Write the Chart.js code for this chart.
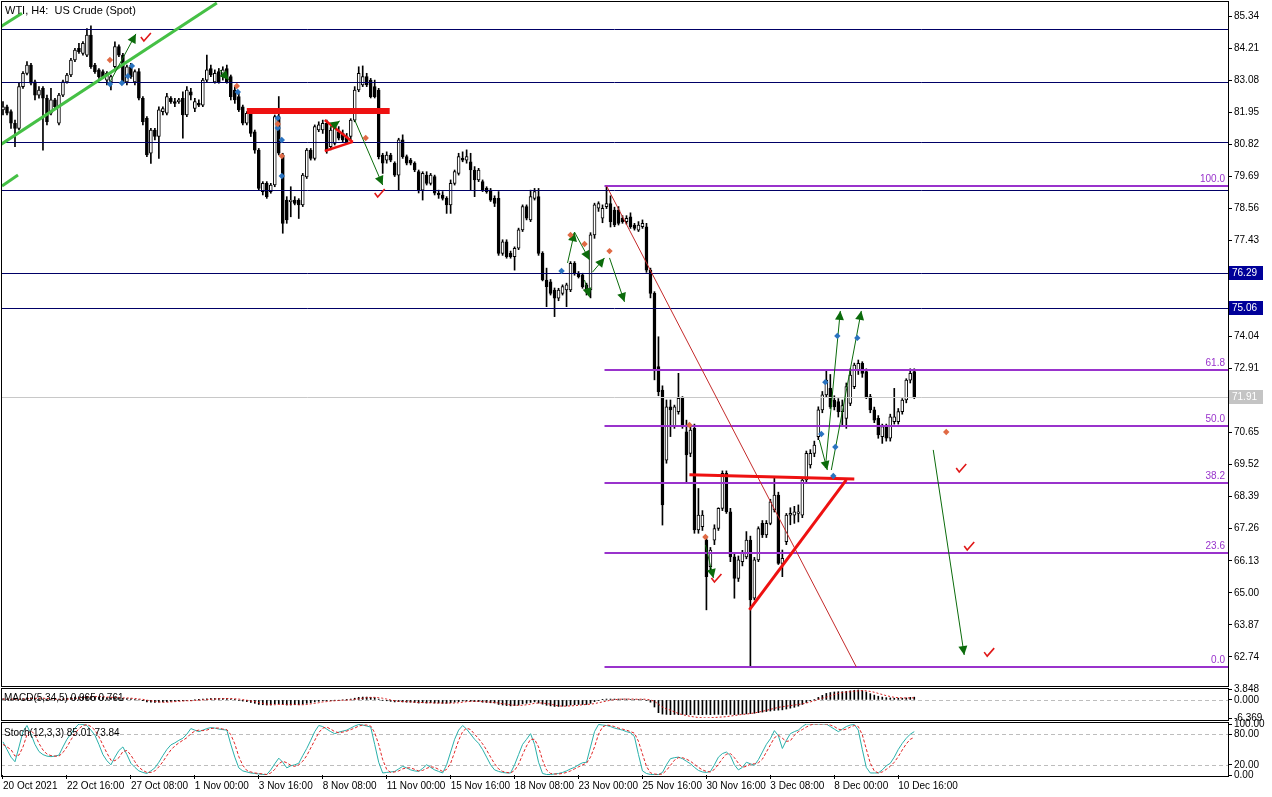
<!DOCTYPE html>
<html>
<head>
<meta charset="utf-8">
<script src="https://cdn.jsdelivr.net/npm/chart.js@4.4.1/dist/chart.umd.min.js"></script>
<style>
html, body { margin: 0; padding: 0; background: #fff; }
#wrap { position: relative; width: 1272px; height: 797px; overflow: hidden; background: #fff; }
canvas { position: absolute; left: 0; }
</style>
</head>
<body>
<div id="wrap">
  <canvas id="main" width="1272" height="687" style="top:0px"></canvas>
  <canvas id="macd" width="1272" height="45" style="top:681px"></canvas>
  <canvas id="stoch" width="1272" height="81" style="top:716px"></canvas>
</div>
<script>
// WTI H4 — candles + MACD + Stochastic, MT5 look

// ---------- price data (H4 bars, oldest first) ----------
const opens = [
  82.03,82.14,81.97,81.56,81.38,82.85,83.32,83.61,83.02,82.55,
  82.79,82.44,81.91,82.38,81.56,82.55,83.02,83.26,83.79,84.20,
  84.02,83.96,84.67,83.61,83.44,83.38,83.08,83.02,83.55,84.26,
  83.96,83.02,83.55,83.02,83.38,82.44,81.73,80.50,81.32,81.09,
  81.97,81.91,82.44,82.32,82.32,82.44,81.85,82.67,82.08,82.26,
  82.20,83.08,83.49,83.02,83.38,83.20,83.49,83.20,82.73,82.50,
  82.14,81.56,81.91,81.26,80.61,79.15,79.44,79.15,79.38,81.79,
  80.44,78.85,78.79,78.85,78.85,78.68,79.67,80.61,80.32,81.32,
  81.32,81.56,80.73,80.85,81.26,81.20,81.09,81.09,81.67,82.73,
  82.91,83.20,83.08,82.85,82.73,80.44,80.26,80.44,80.15,79.73,
  80.97,80.38,80.26,80.15,79.85,79.20,79.73,79.44,79.68,79.09,
  79.03,78.91,78.68,79.44,79.79,80.32,80.26,80.20,79.91,79.56,
  79.50,79.26,79.20,78.91,78.91,76.97,77.38,76.97,76.85,77.15,
  77.80,78.62,78.15,78.91,78.97,76.97,76.03,75.97,75.68,75.39,
  75.56,75.68,75.68,76.62,76.27,76.21,75.86,75.68,77.62,78.56,
  78.21,78.62,78.73,78.50,78.50,78.21,78.09,78.26,77.97,77.79,
  77.91,77.91,76.38,75.56,72.98,72.15,69.68,71.56,70.86,71.39,
  71.86,70.68,69.92,70.80,67.22,67.33,66.86,65.92,66.86,67.27,
  67.98,69.21,67.86,66.27,65.51,66.10,66.27,66.86,64.81,66.16,
  67.45,67.04,67.45,67.92,68.45,66.04,66.80,67.74,67.74,67.80,
  67.74,68.98,69.51,69.92,70.51,71.45,71.98,72.21,71.80,71.74,
  71.39,71.15,71.68,72.27,72.86,73.09,72.80,71.92,71.45,71.15,
  70.51,70.86,70.45,71.04,71.04,71.39,71.80,72.50,72.80
];
const highs = [
  82.32,82.20,82.03,81.67,82.97,83.38,83.73,83.67,83.08,82.85,
  82.85,82.55,82.79,82.44,82.61,83.08,83.32,83.85,84.20,84.38,
  84.44,84.90,84.99,83.67,83.49,83.44,83.38,83.26,84.43,84.32,
  84.02,83.61,83.67,83.44,83.49,82.50,81.79,81.38,81.38,82.14,
  82.14,82.61,82.50,82.44,82.44,82.67,82.85,82.79,82.44,82.38,
  83.14,83.96,83.61,83.44,83.49,83.55,83.61,83.26,82.85,82.61,
  82.20,81.97,82.03,81.32,80.67,79.50,79.50,79.44,81.85,82.50,
  80.50,78.97,79.32,78.97,78.90,79.79,80.67,80.67,81.50,81.61,
  81.67,81.67,81.44,81.56,81.44,81.32,81.20,81.72,82.85,83.55,
  83.58,83.32,83.14,83.08,82.79,80.50,80.55,80.50,80.20,81.03,
  81.15,80.44,80.32,80.20,79.91,79.85,79.85,79.79,79.73,79.20,
  79.15,78.97,79.56,79.91,80.50,80.55,80.62,80.50,80.03,79.97,
  79.56,79.32,79.26,79.00,79.15,77.45,77.45,77.05,77.20,77.86,
  78.68,78.68,79.20,79.26,79.26,77.03,76.45,76.05,75.75,75.74,
  75.86,75.92,76.68,76.68,76.33,76.27,75.92,77.70,78.74,78.79,
  78.68,79.35,79.00,78.60,78.62,78.30,78.30,78.40,78.03,78.09,
  78.15,78.03,76.45,75.62,74.03,72.30,71.80,71.80,71.62,72.74,
  71.92,71.09,70.86,70.95,68.68,67.90,67.00,66.60,67.40,68.00,
  69.30,69.30,67.98,66.40,66.30,66.50,67.16,67.00,66.25,67.33,
  67.55,67.55,68.30,69.04,68.55,66.51,67.80,68.00,68.05,68.10,
  69.04,70.00,70.05,70.35,71.56,72.10,72.86,72.70,71.95,71.85,
  71.80,72.40,72.90,73.10,73.21,73.15,72.90,72.00,71.55,71.25,
  70.95,70.95,71.30,72.21,71.50,71.85,72.55,72.90,72.90
];
const lows = [
  81.85,81.85,81.38,80.73,81.32,82.79,83.26,82.91,82.38,82.44,
  80.61,81.50,81.85,82.08,81.50,82.50,82.97,83.20,83.73,84.02,
  83.96,83.91,83.49,83.32,83.14,83.14,82.91,82.73,83.49,83.91,
  82.97,82.91,83.14,82.91,82.38,81.50,80.38,80.14,80.97,80.32,
  81.85,81.85,82.26,82.14,82.26,81.03,81.79,82.38,81.97,82.14,
  82.14,83.02,83.20,82.97,82.97,83.08,82.97,82.38,82.26,81.97,
  81.50,81.50,81.09,80.50,79.21,79.03,78.91,79.09,79.32,80.44,
  77.68,78.03,78.26,78.68,78.20,78.62,79.61,80.26,80.26,81.26,
  81.20,80.50,80.62,80.79,80.97,80.91,80.85,80.97,81.61,82.67,
  82.85,82.85,82.45,82.45,80.30,79.79,80.15,80.20,79.68,79.20,
  80.32,80.09,80.09,79.85,79.10,78.85,79.38,79.38,79.03,78.91,
  78.85,78.38,78.38,79.38,79.73,80.20,80.15,79.20,78.97,79.50,
  79.15,79.09,78.80,78.62,76.90,76.90,76.80,76.80,76.38,77.10,
  77.74,78.15,78.09,78.85,76.90,76.00,75.09,75.50,74.74,75.30,
  75.50,75.09,75.62,76.20,76.10,75.74,75.50,75.40,77.50,78.45,
  78.05,78.55,77.90,77.91,77.97,78.03,78.00,77.85,77.79,77.74,
  77.85,76.30,75.40,72.51,71.95,67.39,69.57,70.51,70.80,71.30,
  70.80,68.86,69.80,67.10,67.10,67.20,64.40,65.80,66.70,67.20,
  67.90,67.80,66.10,64.81,65.40,65.95,66.20,62.40,64.75,66.10,
  66.95,66.95,67.40,67.85,66.00,65.57,66.70,67.40,67.45,67.50,
  67.65,68.90,69.40,69.80,70.40,71.35,71.90,71.50,71.45,71.20,
  70.86,70.80,71.60,72.20,72.70,72.60,71.85,71.35,71.00,70.45,
  70.27,70.35,70.35,70.95,70.95,71.30,71.70,72.40,71.85
];
const closes = [
  82.14,81.91,81.56,81.38,82.85,83.32,83.61,82.97,82.55,82.73,
  82.44,81.61,82.38,82.14,82.55,83.02,83.26,83.79,84.14,84.08,
  84.38,84.67,83.55,83.38,83.20,83.20,83.32,83.20,84.26,83.96,
  83.02,83.55,83.20,83.38,82.44,81.61,80.44,81.32,81.09,82.03,
  82.08,82.50,82.32,82.26,82.38,81.85,82.73,82.55,82.32,82.20,
  83.08,83.44,83.26,83.32,83.02,83.44,83.02,82.50,82.38,82.03,
  81.56,81.91,81.20,80.61,79.26,79.44,78.97,79.38,81.79,80.50,
  78.03,78.15,78.85,78.73,78.68,79.73,80.61,80.32,81.44,81.50,
  81.56,80.62,81.32,81.44,81.03,80.97,80.91,81.67,82.73,83.32,
  83.20,82.91,82.50,82.50,80.38,80.15,80.44,80.26,79.73,80.97,
  80.38,80.15,80.15,79.91,79.20,79.79,79.44,79.73,79.09,79.03,
  78.91,78.68,79.44,79.85,80.38,80.26,80.38,79.91,79.56,79.91,
  79.20,79.15,78.85,78.73,76.97,77.38,76.85,76.85,77.15,77.80,
  78.62,78.21,78.97,79.15,76.97,76.03,75.80,75.56,75.39,75.68,
  75.80,75.86,76.62,76.27,76.15,75.80,75.62,77.62,78.68,78.73,
  78.56,78.73,78.09,77.97,78.03,78.09,78.21,77.91,77.85,77.97,
  78.03,76.38,75.56,72.86,72.09,68.10,71.56,71.45,71.56,71.86,
  70.86,69.86,70.74,67.22,67.74,67.74,65.57,66.51,67.27,67.98,
  69.21,67.86,66.27,65.51,66.16,66.39,66.86,64.75,66.16,67.27,
  67.04,67.45,68.21,68.45,66.04,66.22,67.74,67.80,67.86,67.86,
  68.98,69.92,69.92,70.21,71.45,71.98,72.50,71.56,71.56,71.39,
  71.60,72.27,72.68,73.03,73.09,72.74,71.92,71.45,71.09,70.57,
  70.86,70.45,71.21,71.21,71.39,71.80,72.50,72.74,71.92
];

// ---------- indicator data ----------
const macdMain = [
  0.4,0.3,0.2,0.1,0.3,0.5,0.7,0.7,0.6,0.5,
  0.3,0.2,0.2,0.2,0.3,0.4,0.6,0.8,1.0,1.1,
  1.2,1.3,1.2,1.1,1.0,0.9,0.8,0.7,0.8,0.8,
  0.6,0.5,0.4,0.2,0.0,-0.3,-0.7,-0.8,-0.9,-0.8,
  -0.7,-0.6,-0.5,-0.4,-0.3,-0.3,-0.2,-0.1,0.0,0.1,
  0.3,0.4,0.5,0.5,0.5,0.5,0.5,0.3,0.1,-0.1,
  -0.4,-0.6,-0.9,-1.2,-1.6,-1.7,-1.8,-1.8,-1.4,-1.3,
  -1.6,-1.8,-1.8,-1.7,-1.7,-1.5,-1.2,-1.0,-0.7,-0.5,
  -0.3,-0.3,-0.2,-0.1,-0.1,0.0,0.1,0.3,0.6,0.9,
  1.0,1.0,0.9,0.8,0.3,-0.1,-0.3,-0.5,-0.7,-0.6,
  -0.7,-0.8,-0.8,-0.9,-1.1,-1.0,-1.1,-1.0,-1.1,-1.1,
  -1.2,-1.2,-1.0,-0.8,-0.6,-0.4,-0.4,-0.5,-0.6,-0.6,
  -0.8,-0.9,-1.0,-1.1,-1.6,-1.8,-2.0,-2.1,-2.0,-1.8,
  -1.4,-1.2,-0.9,-0.7,-1.1,-1.5,-1.9,-2.1,-2.3,-2.3,
  -2.2,-2.1,-1.8,-1.7,-1.6,-1.6,-1.6,-1.2,-0.6,-0.2,
  0.1,0.3,0.3,0.3,0.3,0.3,0.3,0.2,0.2,0.2,
  0.2,-0.2,-0.8,-2.5,-4.5,-5.0,-5.1,-5.2,-5.1,-5.2,
  -5.1,-5.2,-5.2,-5.1,-5.2,-5.2,-5.1,-5.2,-5.1,-5.1,
  -5.2,-5.1,-5.1,-5.2,-5.1,-5.0,-4.9,-4.8,-4.7,-4.5,
  -4.3,-4.1,-3.9,-3.7,-3.6,-3.5,-3.2,-2.9,-2.6,-2.2,
  -1.6,-0.9,-0.3,0.2,0.9,1.6,2.3,2.6,2.8,2.9,
  2.9,3.0,3.2,3.4,3.5,3.3,2.8,2.2,1.7,1.3,
  1.0,0.8,0.7,0.6,0.6,0.6,0.7,0.9,0.965
];
const macdSignal = [
  0.3,0.3,0.3,0.3,0.3,0.3,0.4,0.5,0.6,0.6,
  0.6,0.5,0.4,0.3,0.2,0.3,0.3,0.4,0.5,0.7,
  0.8,1.0,1.1,1.2,1.2,1.1,1.0,0.9,0.9,0.8,
  0.7,0.7,0.6,0.5,0.3,0.2,-0.1,-0.3,-0.5,-0.7,
  -0.8,-0.8,-0.7,-0.6,-0.5,-0.4,-0.3,-0.3,-0.2,-0.1,
  0.0,0.1,0.2,0.3,0.4,0.5,0.5,0.5,0.4,0.3,
  0.1,-0.1,-0.4,-0.6,-0.9,-1.2,-1.5,-1.6,-1.7,-1.6,
  -1.6,-1.6,-1.6,-1.6,-1.7,-1.7,-1.6,-1.4,-1.2,-1.0,
  -0.7,-0.6,-0.4,-0.3,-0.2,-0.1,-0.1,0.0,0.2,0.4,
  0.6,0.8,0.9,0.9,0.8,0.6,0.3,0.0,-0.3,-0.5,
  -0.6,-0.6,-0.7,-0.8,-0.9,-0.9,-1.0,-1.0,-1.1,-1.1,
  -1.1,-1.1,-1.1,-1.1,-1.0,-0.8,-0.6,-0.5,-0.5,-0.5,
  -0.6,-0.7,-0.8,-0.9,-1.1,-1.3,-1.5,-1.7,-1.9,-1.9,
  -1.9,-1.7,-1.5,-1.2,-1.1,-1.1,-1.3,-1.5,-1.8,-2.1,
  -2.2,-2.2,-2.1,-2.0,-1.9,-1.7,-1.6,-1.5,-1.3,-1.0,
  -0.7,-0.4,-0.1,0.1,0.2,0.3,0.3,0.3,0.3,0.2,
  0.3,0.2,0.0,-0.5,-1.5,-2.5,-3.2,-3.6,-4.2,-4.8,
  -5.2,-5.5,-5.8,-6.0,-6.2,-6.3,-6.369,-6.3,-6.2,-6.1,
  -6.0,-5.9,-5.7,-5.5,-5.3,-5.1,-5.0,-4.8,-4.6,-4.3,
  -4.0,-3.7,-3.3,-3.0,-2.6,-2.4,-2.2,-2.0,-1.8,-1.6,
  -1.4,-1.1,-0.7,-0.3,0.2,0.6,1.0,1.4,1.9,2.3,
  2.6,2.8,2.9,3.1,3.2,3.3,3.2,3.0,2.7,2.3,
  1.9,1.5,1.2,0.9,0.8,0.7,0.7,0.7,0.761
];
const stochK = [
  65,50,35,26,55,85,97,80,60,46,
  40,37,36,37,39,55,70,81,92,100,
  99,97,88,78,60,40,28,20,35,48,
  55,40,23,15,8,5,3,8,14,25,
  38,50,59,63,68,72,80,91,88,85,
  88,91,93,92,90,89,88,60,35,14,
  8,6,4,3,2,1,1,10,22,33,
  25,14,18,20,23,38,52,68,85,97,
  95,90,85,81,84,86,88,92,96,99,
  98,96,94,60,25,4,5,6,7,12,
  17,14,10,8,7,13,20,15,10,7,
  4,20,45,70,88,97,90,80,70,62,
  50,35,20,10,7,5,4,4,20,40,
  60,70,81,60,25,3,1,1,2,3,
  5,8,12,15,20,24,25,55,85,99,
  98,97,95,92,90,88,85,83,75,40,
  8,3,1,1,1,5,20,32,34,35,
  32,27,22,15,9,6,5,7,20,35,
  42,45,38,20,10,15,25,22,19,30,
  45,60,71,87,77,52,68,81,85,88,
  95,100,100,100,100,100,100,95,90,85,
  90,95,98,99,88,50,15,4,4,4,
  10,18,23,35,50,62,72,80,85.01
];
const stochD = [
  60,55,50,37,39,55,79,87,79,62,
  49,41,38,37,37,44,55,69,81,91,
  97,99,95,88,75,59,43,29,28,34,
  46,48,39,26,15,9,5,5,8,16,
  26,38,49,57,63,68,73,81,86,88,
  87,88,91,92,92,90,89,79,61,36,
  19,9,6,4,3,2,1,4,11,22,
  27,24,19,17,20,27,38,53,68,83,
  92,94,90,85,83,84,86,89,92,96,
  98,98,96,83,60,30,11,5,6,8,
  12,14,14,11,8,9,13,16,15,11,
  7,11,23,45,68,85,92,89,80,71,
  61,49,35,22,12,7,5,4,9,21,
  40,57,70,70,55,29,10,3,2,2,
  3,5,8,12,16,20,23,35,55,80,
  94,98,97,95,92,90,88,85,82,66,
  41,17,4,2,1,2,9,19,29,34,
  34,31,27,21,15,10,7,6,11,21,
  32,41,42,34,23,15,17,21,22,24,
  31,45,59,73,78,72,66,67,78,85,
  89,94,98,100,100,100,100,98,95,90,
  88,90,94,97,95,79,51,23,8,4,
  6,11,17,25,36,49,61,70,73.84
];

// ---------- axes ----------
const SLOTS = 307;   // bar slots across the window (incl. empty right margin)
const timeTickIdx = [0, 16, 32, 48, 64, 80, 96, 112, 128, 144, 160, 176, 192, 208, 224];
const timeTickText = ['20 Oct 2021', '22 Oct 16:00', '27 Oct 08:00', '1 Nov 00:00', '3 Nov 16:00',
  '8 Nov 08:00', '11 Nov 00:00', '15 Nov 16:00', '18 Nov 08:00', '23 Nov 00:00', '25 Nov 16:00',
  '30 Nov 16:00', '3 Dec 08:00', '8 Dec 00:00', '10 Dec 16:00'];
const priceTicks = [85.34, 84.21, 83.08, 81.95, 80.82, 79.69, 78.56, 77.43, 74.04, 72.91,
  70.65, 69.52, 68.39, 67.26, 66.13, 65.00, 63.87, 62.74];
const PRICE_MAX = 85.834, PRICE_MIN = 61.715;
const macdTicks = [3.848, 0, -6.369];
const stochTicks = [100, 80, 20, 0];
const stochLevels = [80, 20];
const lastPrice = 71.91;

// ---------- chart objects (bar index, price) ----------
const levelLines = [84.89, 83.01, 80.90, 79.20, 76.29, 75.06];
const levelTags = [76.29, 75.06];
const fibStart = 150.5;
const fibLevels = [79.35, 72.87, 70.87, 68.87, 66.39, 62.39];
const fibNames = ['100.0', '61.8', '50.0', '38.2', '23.6', '0.0'];
const greenChannel = [[-0.75, 80.79, 53.5, 85.80], [-0.75, 84.95, 4.75, 85.44], [-0.25, 79.35, 3.75, 79.73]];
const redZone = [61, 96.75, 81.99];
const redPennant = [[80.5, 81.67, 87.5, 80.90], [80.5, 80.58, 87.5, 80.90]];
const redTrend = [151, 79.35, 213.5, 62.39];
const redTriangle = [[186.75, 64.40, 211, 68.98], [171.75, 69.16, 213, 69.01]];
const arrows = [
  [26.75, 83.01, 33.25, 84.71], [88, 81.67, 95, 79.38], [141.25, 76.63, 143, 77.72],
  [143, 77.72, 146.75, 76.74], [145.5, 76.03, 146.75, 75.43], [147.5, 76.31, 150.5, 76.81],
  [151.75, 76.81, 155.5, 75.26], [204.25, 70.39, 206.25, 69.33], [205.75, 69.40, 209.5, 74.94],
  [207.25, 69.33, 214.75, 74.94], [232.75, 70.04, 240.5, 62.81], [175.75, 66.69, 177.75, 65.52],
  [54.25, 83.44, 56.5, 83.08], [81.75, 81.39, 84.25, 81.64]
];
const checks = [[35.75, 84.60], [94.25, 79.10], [178.5, 65.52], [239.75, 69.40], [241.75, 66.65], [246.75, 62.91]];
const blueMarks = [[26.75, 82.94], [29.75, 82.98], [31.25, 83.22], [32.25, 83.58], [68.75, 81.74], [68.75, 81.39],
  [69.75, 80.97], [69.75, 79.70], [58.75, 82.66], [205.75, 72.43], [208.75, 74.06], [213.75, 73.99],
  [204.75, 70.60], [208.25, 70.14], [207.75, 69.12], [139.75, 76.35]];
const orangeMarks = [[26.75, 83.79], [68.75, 81.53], [69.75, 80.40], [90.75, 81.04], [171.75, 70.92],
  [175.75, 66.97], [236, 70.67], [145.5, 77.30], [151.75, 77.05], [142, 77.62], [58.5, 82.87]];

// ────────────────────────────────────────────
const FONT = 'Liberation Sans, Arial, sans-serif';
Chart.defaults.font.family = FONT;
Chart.defaults.font.size = 10;
Chart.defaults.color = '#000';

const slots = Array.from({ length: SLOTS }, (_, i) => String(i));
const bodyColors = opens.map((o, i) => (closes[i] >= o ? '#ffffff' : '#000000'));

// shared option bits
function rightAxis(min, max, ticks, digits) {
  return {
    position: 'right', min, max,
    afterBuildTicks(s) { s.ticks = ticks.map(v => ({ value: v })); },
    afterFit(s) { s.width = 44; s.paddingTop = 0; s.paddingBottom = 0; },
    grid: { drawOnChartArea: false, tickLength: 4, color: '#000' },
    border: { display: false },
    ticks: { autoSkip: false, padding: 2, color: '#000', font: { size: 10 }, callback: v => Number(v).toFixed(digits) },
  };
}
const baseOpts = {
  responsive: false, maintainAspectRatio: false, animation: false, events: [],
  plugins: { legend: { display: false }, tooltip: { enabled: false } },
};

function arrowHead(ctx, x1, y1, x2, y2) {
  const a = Math.atan2(y2 - y1, x2 - x1), L = 9, W = 4.5;
  ctx.beginPath();
  ctx.moveTo(x1, y1); ctx.lineTo(x2, y2); ctx.stroke();
  ctx.beginPath();
  ctx.moveTo(x2, y2);
  ctx.lineTo(x2 - L * Math.cos(a) + W * Math.sin(a), y2 - L * Math.sin(a) - W * Math.cos(a));
  ctx.lineTo(x2 - L * Math.cos(a) - W * Math.sin(a), y2 - L * Math.sin(a) + W * Math.cos(a));
  ctx.closePath(); ctx.fill();
}
function diamond(ctx, x, y, r) {
  ctx.beginPath();
  ctx.moveTo(x, y - r); ctx.lineTo(x + r, y); ctx.lineTo(x, y + r); ctx.lineTo(x - r, y);
  ctx.closePath(); ctx.fill();
}

// ────────────────────────────────────────────
// Main price window objects
// ────────────────────────────────────────────
const mtObjects = {
  id: 'mtObjects',
  afterDatasetsDraw(chart) {
    const { ctx, chartArea: a, scales: { x, y } } = chart;
    const px = b => x.getPixelForValue(b);
    const py = v => y.getPixelForValue(v);
    const seg = (s, w, c) => {
      ctx.strokeStyle = c; ctx.lineWidth = w;
      ctx.beginPath(); ctx.moveTo(px(s[0]), py(s[1])); ctx.lineTo(px(s[2]), py(s[3])); ctx.stroke();
    };
    ctx.save();
    ctx.beginPath(); ctx.rect(a.left, a.top, a.right - a.left, a.bottom - a.top); ctx.clip();

    // current price
    ctx.strokeStyle = '#c8c8c8'; ctx.lineWidth = 1;
    ctx.beginPath(); ctx.moveTo(a.left, Math.round(py(lastPrice)) + 0.5); ctx.lineTo(a.right, Math.round(py(lastPrice)) + 0.5); ctx.stroke();

    // horizontal levels
    ctx.strokeStyle = '#000066';
    levelLines.forEach(v => {
      const yy = Math.round(py(v)) + 0.5;
      ctx.beginPath(); ctx.moveTo(a.left, yy); ctx.lineTo(a.right, yy); ctx.stroke();
    });

    // fibonacci
    ctx.strokeStyle = '#9933cc'; ctx.lineWidth = 2;
    ctx.fillStyle = '#9933cc'; ctx.font = '10px ' + FONT;
    ctx.textAlign = 'right'; ctx.textBaseline = 'bottom';
    fibLevels.forEach((v, i) => {
      const yy = Math.round(py(v));
      ctx.beginPath(); ctx.moveTo(px(fibStart), yy); ctx.lineTo(a.right, yy); ctx.stroke();
      ctx.fillText(fibNames[i], a.right - 3, yy - 2);
    });

    // green channel
    greenChannel.forEach(s => seg(s, 3, '#45c045'));

    // red objects
    ctx.fillStyle = '#ee1111';
    ctx.fillRect(px(redZone[0]), py(redZone[2]) - 3, px(redZone[1]) - px(redZone[0]), 6);
    redPennant.forEach(s => seg(s, 2.5, '#ee1111'));
    seg(redTrend, 1, '#c42a2a');
    redTriangle.forEach(s => seg(s, 3, '#ee1111'));

    // arrows
    ctx.strokeStyle = '#0b6b0b'; ctx.fillStyle = '#0b6b0b'; ctx.lineWidth = 1;
    arrows.forEach(s => arrowHead(ctx, px(s[0]), py(s[1]), px(s[2]), py(s[3])));

    // check marks
    ctx.strokeStyle = '#e01818'; ctx.lineWidth = 1.6;
    checks.forEach(c => {
      const cx = px(c[0]), cy = py(c[1]);
      ctx.beginPath(); ctx.moveTo(cx - 5, cy); ctx.lineTo(cx - 2, cy + 4); ctx.lineTo(cx + 5, cy - 4); ctx.stroke();
    });

    // signal dots
    ctx.fillStyle = '#2a73c0';
    blueMarks.forEach(m => diamond(ctx, px(m[0]), py(m[1]), 3.2));
    ctx.fillStyle = '#e06a45';
    orangeMarks.forEach(m => diamond(ctx, px(m[0]), py(m[1]), 3.2));
    ctx.restore();

    // frame
    ctx.save();
    ctx.strokeStyle = '#000'; ctx.lineWidth = 1;
    ctx.strokeRect(1.5, 1.5, a.right - 1, a.bottom - 1);

    // title
    ctx.fillStyle = '#000'; ctx.font = '11px ' + FONT;
    ctx.textAlign = 'left'; ctx.textBaseline = 'middle';
    ctx.fillText('WTI, H4:  US Crude (Spot)', 5, 11);

    // price tags on the axis
    ctx.font = '10px ' + FONT;
    levelTags.forEach(v => {
      const yy = Math.round(py(v));
      ctx.fillStyle = '#000099'; ctx.fillRect(a.right + 1, yy - 7, 34, 14);
      ctx.fillStyle = '#fff'; ctx.fillText(v.toFixed(2), a.right + 4, yy);
    });
    const ly = Math.round(py(lastPrice));
    ctx.fillStyle = '#c4c4c4'; ctx.fillRect(a.right + 1, ly - 7, 34, 14);
    ctx.fillStyle = '#fff'; ctx.fillText(lastPrice.toFixed(2), a.right + 4, ly);
    ctx.restore();
  },
};

new Chart(document.getElementById('main'), {
  type: 'bar',
  data: {
    labels: slots,
    datasets: [
      { data: lows.map((l, i) => [l, highs[i]]), backgroundColor: '#000', barThickness: 1, grouped: false, order: 2 },
      { data: opens.map((o, i) => [o, closes[i]]), backgroundColor: bodyColors, borderColor: '#000', borderWidth: 1,
        borderSkipped: false, barThickness: 3, minBarLength: 1, grouped: false, order: 1 },
    ],
  },
  options: {
    ...baseOpts,
    layout: { padding: { left: 1, top: 2, bottom: 1, right: 0 } },
    scales: {
      x: { display: false, offset: true },
      y: rightAxis(PRICE_MIN, PRICE_MAX, priceTicks, 2),
    },
  },
  plugins: [mtObjects],
});

// ────────────────────────────────────────────
// MACD window
// ────────────────────────────────────────────
const macdDeco = {
  id: 'macdDeco',
  beforeDatasetsDraw(chart) {
    const { ctx, chartArea: a, scales: { y } } = chart;
    ctx.save();
    ctx.strokeStyle = '#bdbdbd'; ctx.setLineDash([4, 3]); ctx.lineWidth = 1;
    const yy = Math.round(y.getPixelForValue(0)) + 0.5;
    ctx.beginPath(); ctx.moveTo(a.left, yy); ctx.lineTo(a.right, yy); ctx.stroke();
    ctx.restore();
  },
  afterDatasetsDraw(chart) {
    const { ctx, chartArea: a } = chart;
    ctx.save();
    ctx.strokeStyle = '#000'; ctx.lineWidth = 1;
    ctx.strokeRect(1.5, 7.5, a.right - 1, 32);
    ctx.fillStyle = '#000'; ctx.font = '10px ' + FONT; ctx.textBaseline = 'middle';
    ctx.fillText('MACD(5,34,5) 0.965 0.761', 4, 17);
    ctx.restore();
  },
};

new Chart(document.getElementById('macd'), {
  type: 'bar',
  data: {
    labels: slots,
    datasets: [
      { type: 'line', data: macdSignal, borderColor: '#d42020', borderWidth: 1, borderDash: [2, 2], pointRadius: 0, order: 1 },
      { data: macdMain, backgroundColor: '#000', barThickness: 1, order: 2 },
    ],
  },
  options: {
    ...baseOpts,
    layout: { padding: { left: 1, top: 8, bottom: 8, right: 0 } },
    scales: {
      x: { display: false, offset: true },
      y: rightAxis(-6.369, 3.848, macdTicks, 3),
    },
  },
  plugins: [macdDeco],
});

// ────────────────────────────────────────────
// Stochastic window + time axis
// ────────────────────────────────────────────
const stochDeco = {
  id: 'stochDeco',
  beforeDatasetsDraw(chart) {
    const { ctx, chartArea: a, scales: { y } } = chart;
    ctx.save();
    ctx.strokeStyle = '#bdbdbd'; ctx.setLineDash([4, 3]); ctx.lineWidth = 1;
    stochLevels.forEach(v => {
      const yy = Math.round(y.getPixelForValue(v)) + 0.5;
      ctx.beginPath(); ctx.moveTo(a.left, yy); ctx.lineTo(a.right, yy); ctx.stroke();
    });
    ctx.restore();
  },
  afterDatasetsDraw(chart) {
    const { ctx, chartArea: a } = chart;
    ctx.save();
    ctx.strokeStyle = '#000'; ctx.lineWidth = 1;
    ctx.strokeRect(1.5, 6.5, a.right - 1, 54);
    ctx.fillStyle = '#000'; ctx.font = '10px ' + FONT; ctx.textBaseline = 'middle';
    ctx.fillText('Stoch(12,3,3) 85.01 73.84', 4, 17);
    ctx.restore();
  },
};

new Chart(document.getElementById('stoch'), {
  type: 'line',
  data: {
    labels: slots,
    datasets: [
      { data: stochD, borderColor: '#e02424', borderWidth: 1, borderDash: [3, 2], pointRadius: 0 },
      { data: stochK, borderColor: '#2ab0aa', borderWidth: 1, pointRadius: 0 },
    ],
  },
  options: {
    ...baseOpts,
    layout: { padding: { left: 1, top: 8, bottom: 0, right: 0 } },
    scales: {
      x: {
        offset: true,
        afterFit(s) { s.height = 22; s.paddingLeft = 0; s.paddingRight = 0; },
        grid: {
          drawOnChartArea: false, offset: false, tickLength: 4,
          color: c => (timeTickIdx.includes(c.index) ? '#000' : 'rgba(0,0,0,0)'),
        },
        border: { display: false },
        ticks: {
          autoSkip: false, maxRotation: 0, minRotation: 0, align: 'start', padding: 1,
          color: '#000', font: { size: 10 },
          callback: (v, i) => { const k = timeTickIdx.indexOf(i); return k >= 0 ? timeTickText[k] : ''; },
        },
      },
      y: rightAxis(0, 100, stochTicks, 2),
    },
  },
  plugins: [stochDeco],
});
</script>
</body>
</html>
